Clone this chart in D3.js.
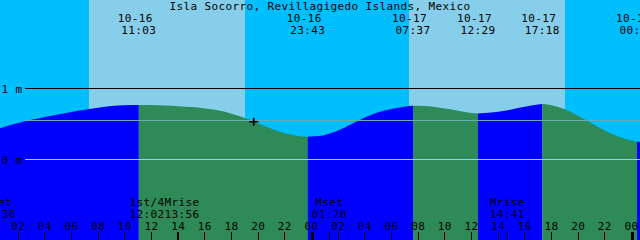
<!DOCTYPE html>
<html><head><meta charset="utf-8">
<script src="https://cdn.jsdelivr.net/npm/d3@7"></script>
<style>
html,body{margin:0;padding:0;overflow:hidden;background:#00BFFF}
svg{display:block}
text{font-family:"DejaVu Sans Mono",monospace;font-size:11px;letter-spacing:0.38px;fill:#000}
</style>
</head><body>
<svg id="chart" width="640" height="240"></svg>
<script>
// ---------- data ----------
const title = "Isla Socorro, Revillagigedo Islands, Mexico";
const startTime = "10-16 00:00";
const endTime = "10-18 00:00";

// hourly water level samples (hours after 10-16 00:00, metres)
const sampleHours = [0,1,2,3,4,5,6,7,8,9,10,11,12,13,14,15,16,17,18,19,20,21,22,23,24,25,26,27,28,29,30,31,32,33,34,35,36,37,38,39,40,41,42,43,44,45,46,47,48,49];
const sampleLevels = [0.401,0.461,0.513,0.559,0.599,0.635,0.670,0.701,0.730,0.752,0.763,0.768,
                      0.766,0.761,0.751,0.738,0.720,0.692,0.646,0.585,0.510,0.432,0.368,0.330,
                      0.323,0.345,0.408,0.500,0.592,0.665,0.713,0.744,0.756,0.746,0.718,0.686,
                      0.655,0.654,0.672,0.704,0.742,0.773,0.763,0.708,0.615,0.511,0.407,0.323,0.266,0.255];

// tide extremes
const tideTimes  = ["10-16 11:03","10-16 23:43","10-17 07:37","10-17 12:29","10-17 17:18","10-18 00:25"];
const tideLevels = [0.768,0.321,0.758,0.649,0.782,0.251];
const tideTypes  = ["high","low","high","low","high","low"];

// sun
const sunriseTimes = ["10-16 07:20","10-17 07:20"];
const sunsetTimes  = ["10-16 19:02","10-17 19:02"];

// moon events
const moonTimes = ["10-16 00:30","10-16 12:02","10-16 13:56","10-17 01:20","10-17 14:41"];
const moonNames = ["Mset","1st/4","Mrise","Mset","Mrise"];

// level lines
const levelLines  = [1, 0.55, 0];
const levelLabels = ["1 m", null, "0 m"];

// hour ticks
const tickHours  = [0,2,4,6,8,10,12,14,16,18,20,22,24,26,28,30,32,34,36,38,40,42,44,46,48];
const tickLabels = ["00","02","04","06","08","10","12","14","16","18","20","22","00","02","04","06","08","10","12","14","16","18","20","22","00"];

// current time marker
const nowTime = "10-16 19:40";
const nowLevel = 0.532;

// ---------- drawing ----------
const parse = d3.utcParse("%m-%d %H:%M");
const t0 = parse(startTime);
const hourDate = h => new Date(t0.getTime() + h * 3600e3);

const W = 640, H = 240;
const x = d3.scaleUtc().domain([t0, parse(endTime)]).range([-8.5, 631.5]);
const y = d3.scaleLinear().domain([0, 1]).range([159.5, 88.5]);
const crisp = v => Math.round(v - 0.5) + 0.5;
const CW = 7; // approx char width

const svg = d3.select("#chart");

// night background
svg.append("rect").attr("x",0).attr("y",0).attr("width",W).attr("height",H).attr("fill","#00BFFF");
// day bands
svg.append("g").attr("shape-rendering","crispEdges").selectAll("rect")
  .data(d3.zip(sunriseTimes, sunsetTimes)).join("rect")
  .attr("x", d => Math.round(x(parse(d[0]))))
  .attr("width", d => Math.round(x(parse(d[1]))) - Math.round(x(parse(d[0]))))
  .attr("y",0).attr("height",H).attr("fill","#87CEEB");

// curve points
const pts = sampleHours.map((h,i) => ({t: hourDate(h), v: sampleLevels[i]}))
  .concat(tideTimes.map((s,i) => ({t: parse(s), v: tideLevels[i]})))
  .sort((a,b) => a.t - b.t);

const area = d3.area().x(d => x(d.t)).y0(H).y1(d => y(d.v)).curve(d3.curveMonotoneX);
svg.append("clipPath").attr("id","water").append("path").attr("d", area(pts));

// segments between extremes
const bounds = [t0].concat(tideTimes.map(parse)).concat([hourDate(50)]);
const segs = [];
for (let i = 0; i < bounds.length - 1; i++) {
  const nextType = i < tideTypes.length ? tideTypes[i] : (tideTypes[tideTypes.length-1] === "low" ? "high" : "low");
  segs.push({a: bounds[i], b: bounds[i+1], rising: nextType === "high"});
}
svg.append("g").attr("clip-path","url(#water)").selectAll("rect")
  .data(segs).join("rect")
  .attr("x", d => x(d.a)).attr("width", d => x(d.b) - x(d.a))
  .attr("y", 0).attr("height", H)
  .attr("fill", d => d.rising ? "#0000FF" : "#2E8B57");

// level lines
const lineColors = ["#000000", "#6aaab0", "#8fd3ec"];
svg.append("g").attr("shape-rendering","crispEdges").selectAll("line")
  .data(levelLines).join("line")
  .attr("x1", 25).attr("x2", W)
  .attr("y1", d => crisp(y(d))).attr("y2", d => crisp(y(d)))
  .attr("stroke", (d,i) => lineColors[i]).attr("stroke-width", 1);
svg.append("g").selectAll("text")
  .data(levelLines.map((v,i) => ({v, label: levelLabels[i]})).filter(d => d.label)).join("text")
  .attr("x", 1.5).attr("y", d => y(d.v) + 4)
  .text(d => d.label);

// now marker
const nx = x(parse(nowTime)), ny = y(nowLevel);
svg.append("path").attr("d", `M${nx-4.5},${ny}H${nx+4.5}M${nx},${ny-4}V${ny+4}`)
  .attr("stroke","#000").attr("stroke-width",1.7).attr("fill","none");

// title
svg.append("text").attr("x", 320).attr("y", 10).attr("text-anchor","middle").text(title);

// tide event labels
const tg = svg.append("g").attr("text-anchor","middle");
tideTimes.forEach(s => {
  const ex = x(parse(s));
  tg.append("text").attr("x", ex - CW/2).attr("y", 22).text(s.slice(0,5));
  tg.append("text").attr("x", ex).attr("y", 34).text(s.slice(6));
});

// hour ticks
const axisG = svg.append("g").attr("shape-rendering","crispEdges");
tickHours.forEach((h,i) => {
  const tx = x(hourDate(h));
  const midnight = h % 24 === 0;
  axisG.append("rect")
    .attr("x", midnight ? Math.round(tx) - 1.5 : Math.round(tx - 0.5))
    .attr("width", midnight ? 3 : 1)
    .attr("y", 232).attr("height", 8).attr("fill","#000");
  svg.append("text").attr("x", tx).attr("y", 230).attr("text-anchor","middle").text(tickLabels[i]);
});

// moon events
const moon = moonTimes.map((s,i) => ({x: x(parse(s)), name: moonNames[i], time: s.slice(6)}));
moon.forEach(d => d.cx = d.x);
const minSep = 5 * CW;
for (let i = 1; i < moon.length; i++) {
  if (moon[i].cx - moon[i-1].cx < minSep) {
    const mid = (moon[i].cx + moon[i-1].cx) / 2;
    moon[i-1].cx = mid - minSep/2;
    moon[i].cx = mid + minSep/2;
  }
}
moon.forEach(d => {
  axisG.append("rect").attr("x", Math.round(d.x - 0.5)).attr("width",1)
    .attr("y",232).attr("height",8).attr("fill","#000");
  svg.append("text").attr("x", d.cx).attr("y", 206).attr("text-anchor","middle").text(d.name);
  svg.append("text").attr("x", d.cx).attr("y", 218).attr("text-anchor","middle").text(d.time);
});
</script>
</body></html>
